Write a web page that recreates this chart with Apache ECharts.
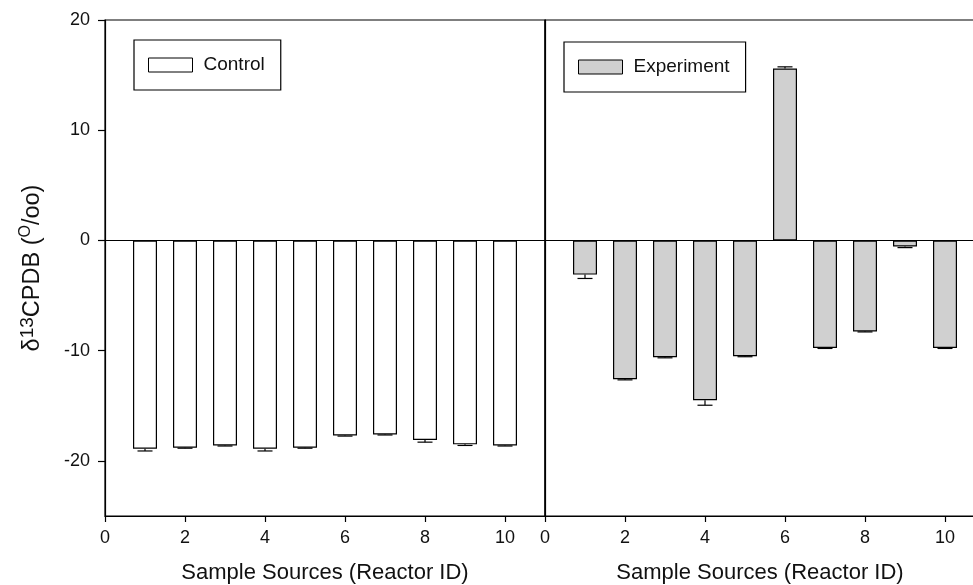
<!DOCTYPE html>
<html>
<head>
<meta charset="utf-8">
<script src="https://cdn.jsdelivr.net/npm/echarts@6/dist/echarts.min.js"></script>
<style>
  html, body { margin: 0; padding: 0; background: #fff; }
  #chart { width: 973px; height: 585px; }
</style>
</head>
<body>
<div id="chart"></div>
<script>
// reactor ids and measured values (per mil), error = one-sided SE
const reactors = [1, 2, 3, 4, 5, 6, 7, 8, 9, 10]
const controlMean = [-18.9, -18.8, -18.6, -18.9, -18.8, -17.7, -17.6, -18.1, -18.5, -18.6]
const controlErr = [0.2, 0.05, 0.05, 0.2, 0.05, 0.05, 0.05, 0.2, 0.1, 0.05]
const expMean = [-3.1, -12.6, -10.6, -14.5, -10.5, 15.6, -9.75, -8.25, -0.55, -9.75]
const expErr = [0.35, 0.05, 0.05, 0.45, 0.05, 0.15, 0.05, 0.05, 0.1, 0.05]

const FONT = '"Liberation Sans", Arial, sans-serif'
const INK = '#111'

const chart = echarts.init(document.getElementById('chart'))

// 误差线
function renderErr(params, api) {
  const x = api.value(0)
  const m = api.value(1)
  const e = api.value(2)
  const end = m + (m < 0 ? -e : e)
  const p0 = api.coord([x, m])
  const p1 = api.coord([x, end])
  const st = { stroke: '#000', lineWidth: 1.2 }
  return {
    type: 'group',
    children: [
      { type: 'line', shape: { x1: p0[0], y1: p0[1], x2: p1[0], y2: p1[1] }, style: st },
      { type: 'line', shape: { x1: p1[0] - 7.5, y1: p1[1], x2: p1[0] + 7.5, y2: p1[1] }, style: st }
    ]
  }
}

const zeroLine = {
  silent: true,
  symbol: 'none',
  label: { show: false },
  lineStyle: { color: '#000', width: 1, type: 'solid' },
  data: [{ yAxis: 0 }]
}

function xAxisOf(gridIndex, max) {
  return {
    type: 'value',
    gridIndex: gridIndex,
    min: 0,
    max: max,
    interval: 2,
    name: 'Sample Sources (Reactor ID)',
    nameLocation: 'middle',
    nameGap: 46,
    nameTextStyle: { fontFamily: FONT, fontSize: 22, color: INK },
    axisLine: { onZero: false, lineStyle: { color: '#000', width: 1.2 } },
    axisTick: { length: 6, lineStyle: { color: '#000', width: 1.2 } },
    axisLabel: { fontFamily: FONT, fontSize: 18, color: INK, margin: 13, showMaxLabel: false },
    splitLine: { show: false }
  }
}

function legendOf(name, left, top) {
  return {
    data: [name],
    left: left,
    top: top,
    orient: 'vertical',
    padding: [15, 16, 15, 14],
    borderColor: '#000',
    borderWidth: 1.2,
    itemWidth: 44,
    itemHeight: 14,
    icon: 'rect',
    selectedMode: false,
    itemStyle: { borderWidth: 1 },
    textStyle: { fontFamily: FONT, fontSize: 19, color: INK, lineHeight: 20, padding: [0, 0, 0, 6] }
  }
}

chart.setOption({
  animation: false,
  grid: [
    { left: 105, right: 428, top: 20, bottom: 69, outerBoundsMode: 'none', show: true, borderColor: '#000', borderWidth: 1.2 },
    { left: 545, right: -2, top: 20, bottom: 69, outerBoundsMode: 'none', show: true, borderColor: '#000', borderWidth: 1.2 }
  ],
  legend: [legendOf('Control', 134, 40), legendOf('Experiment', 564, 42)],
  xAxis: [xAxisOf(0, 11), xAxisOf(1, 10.75)],
  yAxis: [{
    type: 'value',
    gridIndex: 0,
    min: -25,
    max: 20,
    name: '{b|δ}{s|13}{b|CPDB (}{o|O}{b|/oo)}',
    nameLocation: 'middle',
    nameRotate: 90,
    nameGap: 58,
    nameTextStyle: {
      fontFamily: FONT,
      color: INK,
      rich: {
        b: { fontFamily: FONT, fontSize: 23.5, lineHeight: 29, color: INK },
        s: { fontFamily: FONT, fontSize: 19, lineHeight: 19, verticalAlign: 'top', color: INK },
        o: { fontFamily: FONT, fontSize: 16, lineHeight: 16, verticalAlign: 'top', color: INK }
      }
    },
    axisLine: { show: true, onZero: false, lineStyle: { color: '#000', width: 1.2 } },
    axisTick: { show: true, length: 7, lineStyle: { color: '#000', width: 1.2 } },
    axisLabel: { fontFamily: FONT, fontSize: 18, color: INK, margin: 15, showMinLabel: false },
    splitLine: { show: false }
  }, {
    type: 'value',
    gridIndex: 1,
    min: -25,
    max: 20,
    axisLine: { show: true, onZero: false, lineStyle: { color: '#000', width: 1.2 } },
    axisTick: { show: false },
    axisLabel: { show: false },
    splitLine: { show: false }
  }],
  series: [{
    name: 'Control',
    type: 'bar',
    xAxisIndex: 0,
    yAxisIndex: 0,
    barWidth: 24,
    itemStyle: { color: '#fff', borderColor: '#000', borderWidth: 1.2 },
    markLine: zeroLine,
    data: reactors.map((r, i) => [r, controlMean[i]])
  }, {
    type: 'custom',
    xAxisIndex: 0,
    yAxisIndex: 0,
    z: 3,
    renderItem: renderErr,
    data: reactors.map((r, i) => [r, controlMean[i], controlErr[i]])
  }, {
    name: 'Experiment',
    type: 'bar',
    xAxisIndex: 1,
    yAxisIndex: 1,
    barWidth: 24,
    itemStyle: { color: '#d0d0d0', borderColor: '#000', borderWidth: 1.2 },
    markLine: zeroLine,
    data: reactors.map((r, i) => [r, expMean[i]])
  }, {
    type: 'custom',
    xAxisIndex: 1,
    yAxisIndex: 1,
    z: 3,
    renderItem: renderErr,
    data: reactors.map((r, i) => [r, expMean[i], expErr[i]])
  }]
})
</script>
</body>
</html>
